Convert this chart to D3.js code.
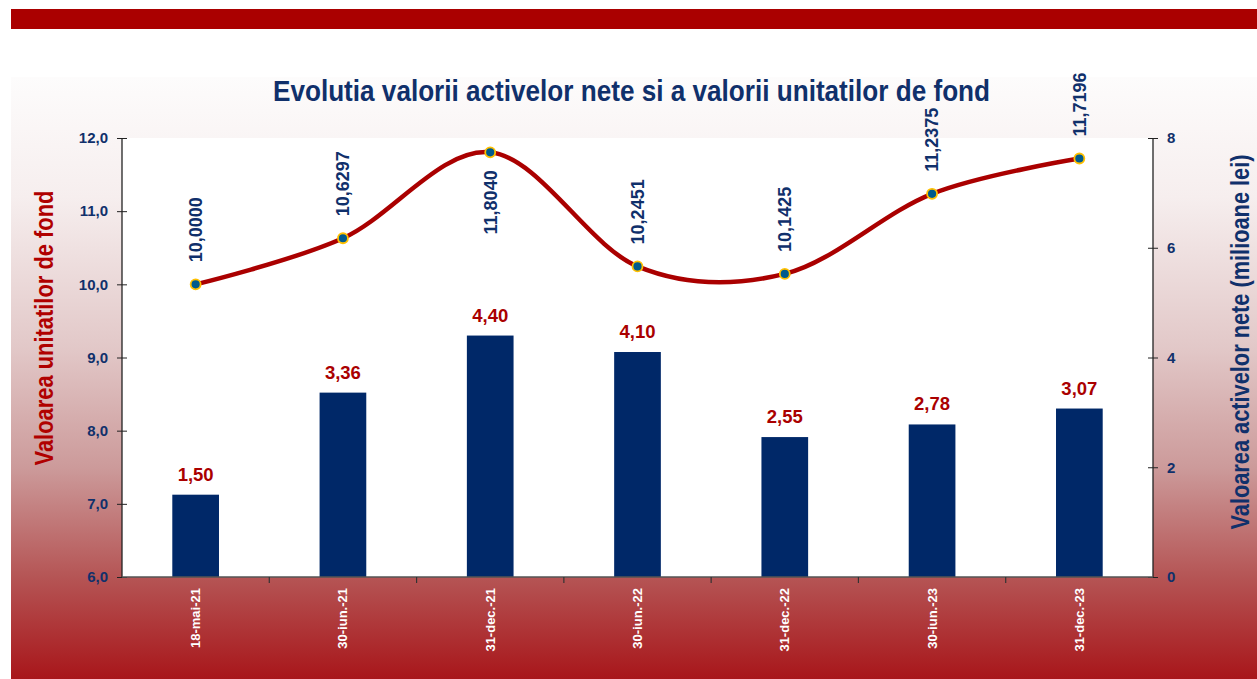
<!DOCTYPE html>
<html><head><meta charset="utf-8">
<script src="https://cdn.jsdelivr.net/npm/d3@7"></script>
<style>body{margin:0;background:#fff}svg{display:block}</style>
</head><body>
<script>
const categories = ["18-mai-21","30-iun.-21","31-dec.-21","30-iun.-22","31-dec.-22","30-iun.-23","31-dec.-23"];
const netAssets = [1.50, 3.36, 4.40, 4.10, 2.55, 2.78, 3.07];
const unitValues = [10.0000, 10.6297, 11.8040, 10.2451, 10.1425, 11.2375, 11.7196];
const leftTicks = [6, 7, 8, 9, 10, 11, 12];
const rightTicks = [0, 2, 4, 6, 8];
const titleText = "Evolutia valorii activelor nete si a valorii unitatilor de fond";
const leftTitle = "Valoarea unitatilor de fond";
const rightTitle = "Valoarea activelor nete (milioane lei)";

const W = 1257, H = 679;
const FONT = "'Liberation Sans Narrow','Arial Narrow','Liberation Sans',Arial,sans-serif";
const NAVY = "#10306b", RED = "#aa0000", BAR = "#002868";
const m = {left:122, right:1153, top:138, bottom:577};

const svg = d3.select("body").append("svg").attr("width", W).attr("height", H);
const defs = svg.append("defs");
const g = defs.append("linearGradient").attr("id","bg").attr("gradientUnits","userSpaceOnUse")
  .attr("x1",0).attr("y1",77).attr("x2",0).attr("y2",679);
[[0,"#fdfcfc"],[0.2,"#f6eeee"],[0.45,"#e2c8c8"],[0.65,"#cc9a9a"],[0.83,"#b55555"],[1,"#a8161a"]]
  .forEach(([o,c]) => g.append("stop").attr("offset",o).attr("stop-color",c));

// top red band
svg.append("rect").attr("x",11).attr("y",9).attr("width",W-11).attr("height",20).attr("fill","#aa0000");
// gradient background
svg.append("rect").attr("x",11).attr("y",77).attr("width",W-11).attr("height",H-77).attr("fill","url(#bg)");
// plot area
svg.append("rect").attr("x",m.left).attr("y",m.top).attr("width",m.right-m.left).attr("height",m.bottom-m.top).attr("fill","#fff");

const x = d3.scaleBand().domain(categories).range([m.left, m.right]).paddingInner(0).paddingOuter(0);
const yL = d3.scaleLinear().domain([6,12]).range([m.bottom, m.top]);
const yR = d3.scaleLinear().domain([0,8]).range([m.bottom, m.top]);
const cx = d => x(d) + x.bandwidth()/2;

// bars
const bw = x.bandwidth()*0.317;
svg.append("g").selectAll("rect").data(netAssets).join("rect")
  .attr("x",(d,i)=>cx(categories[i])-bw/2).attr("y",d=>yR(d))
  .attr("width",bw).attr("height",d=>yR(0)-yR(d)).attr("fill",BAR);

// bar labels
svg.append("g").selectAll("text").data(netAssets).join("text")
  .attr("x",(d,i)=>cx(categories[i])).attr("y",d=>yR(d)-14)
  .attr("text-anchor","middle").attr("font-family",FONT).attr("font-weight","bold")
  .attr("font-size",18.5).attr("fill",RED).text(d=>d.toFixed(2).replace(".",","));

// axes
const axL = svg.append("g").attr("transform",`translate(${m.left},0)`)
  .call(d3.axisLeft(yL).tickValues(leftTicks).tickSize(5).tickFormat(d=>d.toFixed(1).replace(".",",")));
axL.selectAll(".tick line").attr("x1",-5).attr("x2",5).attr("stroke","#222");
axL.select(".domain").attr("stroke","#222").attr("stroke-width",1.3).attr("d",`M0,${m.top}V${m.bottom}`);
axL.selectAll(".tick text").attr("x",-14).attr("font-family",FONT).attr("font-weight","bold").attr("font-size",15).attr("fill",NAVY);

const axR = svg.append("g").attr("transform",`translate(${m.right},0)`)
  .call(d3.axisRight(yR).tickValues(rightTicks).tickSize(5).tickFormat(d3.format("d")));
axR.selectAll(".tick line").attr("x1",-5).attr("x2",5).attr("stroke","#222");
axR.select(".domain").attr("stroke","#222").attr("stroke-width",1.3).attr("d",`M0,${m.top}V${m.bottom}`);
axR.selectAll(".tick text").attr("x",14).attr("font-family",FONT).attr("font-weight","bold").attr("font-size",15).attr("fill",NAVY);

// x axis
const axX = svg.append("g").attr("transform",`translate(0,${m.bottom})`)
  .call(d3.axisBottom(x).tickSize(0).tickFormat(""));
axX.select(".domain").attr("stroke","#555").attr("stroke-width",1.5).attr("d",`M${m.left},0H${m.right}`);
svg.append("g").selectAll("line").data(categories.slice(1)).join("line")
  .attr("x1",d=>x(d)).attr("x2",d=>x(d)).attr("y1",m.bottom).attr("y2",m.bottom+6)
  .attr("stroke","#333").attr("stroke-width",1.2);
svg.append("g").selectAll("text").data(categories).join("text")
  .attr("transform",d=>`translate(${cx(d)},${m.bottom+11}) rotate(-90)`)
  .attr("text-anchor","end").attr("dy","0.35em").attr("font-family",FONT).attr("font-weight","bold")
  .attr("font-size",13).attr("fill","#fff").text(d=>d);

// line
const line = d3.line().x((d,i)=>cx(categories[i])).y(d=>yL(d)).curve(d3.curveCardinal.tension(0));
svg.append("path").datum(unitValues).attr("d",line).attr("fill","none")
  .attr("stroke",RED).attr("stroke-width",4.5).attr("stroke-linecap","round");
svg.append("g").selectAll("circle").data(unitValues).join("circle")
  .attr("cx",(d,i)=>cx(categories[i])).attr("cy",d=>yL(d)).attr("r",5)
  .attr("fill","#005a8c").attr("stroke","#ffc000").attr("stroke-width",1.8);

// line labels
const below = [false,false,true,false,false,false,false];
svg.append("g").selectAll("text").data(unitValues).join("text")
  .attr("transform",(d,i)=>`translate(${cx(categories[i])},${below[i]?yL(d)+18:yL(d)-22}) rotate(-90)`)
  .attr("text-anchor",(d,i)=>below[i]?"end":"start").attr("dy","0.35em")
  .attr("font-family",FONT).attr("font-weight","bold").attr("font-size",18).attr("fill",NAVY)
  .text(d=>d.toFixed(4).replace(".",","));

// titles
svg.append("text").attr("x",631.5).attr("y",101).attr("text-anchor","middle")
  .attr("font-family",FONT).attr("font-weight","bold").attr("font-size",30).attr("fill",NAVY)
  .attr("textLength",717).attr("lengthAdjust","spacingAndGlyphs").text(titleText);
svg.append("text").attr("transform","translate(44,328) rotate(-90)").attr("text-anchor","middle").attr("dy","0.35em")
  .attr("font-family",FONT).attr("font-weight","bold").attr("font-size",26).attr("fill","#b00000")
  .attr("textLength",275).attr("lengthAdjust","spacingAndGlyphs").text(leftTitle);
svg.append("text").attr("transform","translate(1240,342) rotate(-90)").attr("text-anchor","middle").attr("dy","0.35em")
  .attr("font-family",FONT).attr("font-weight","bold").attr("font-size",26).attr("fill",NAVY)
  .attr("textLength",375).attr("lengthAdjust","spacingAndGlyphs").text(rightTitle);
</script>
</body></html>
